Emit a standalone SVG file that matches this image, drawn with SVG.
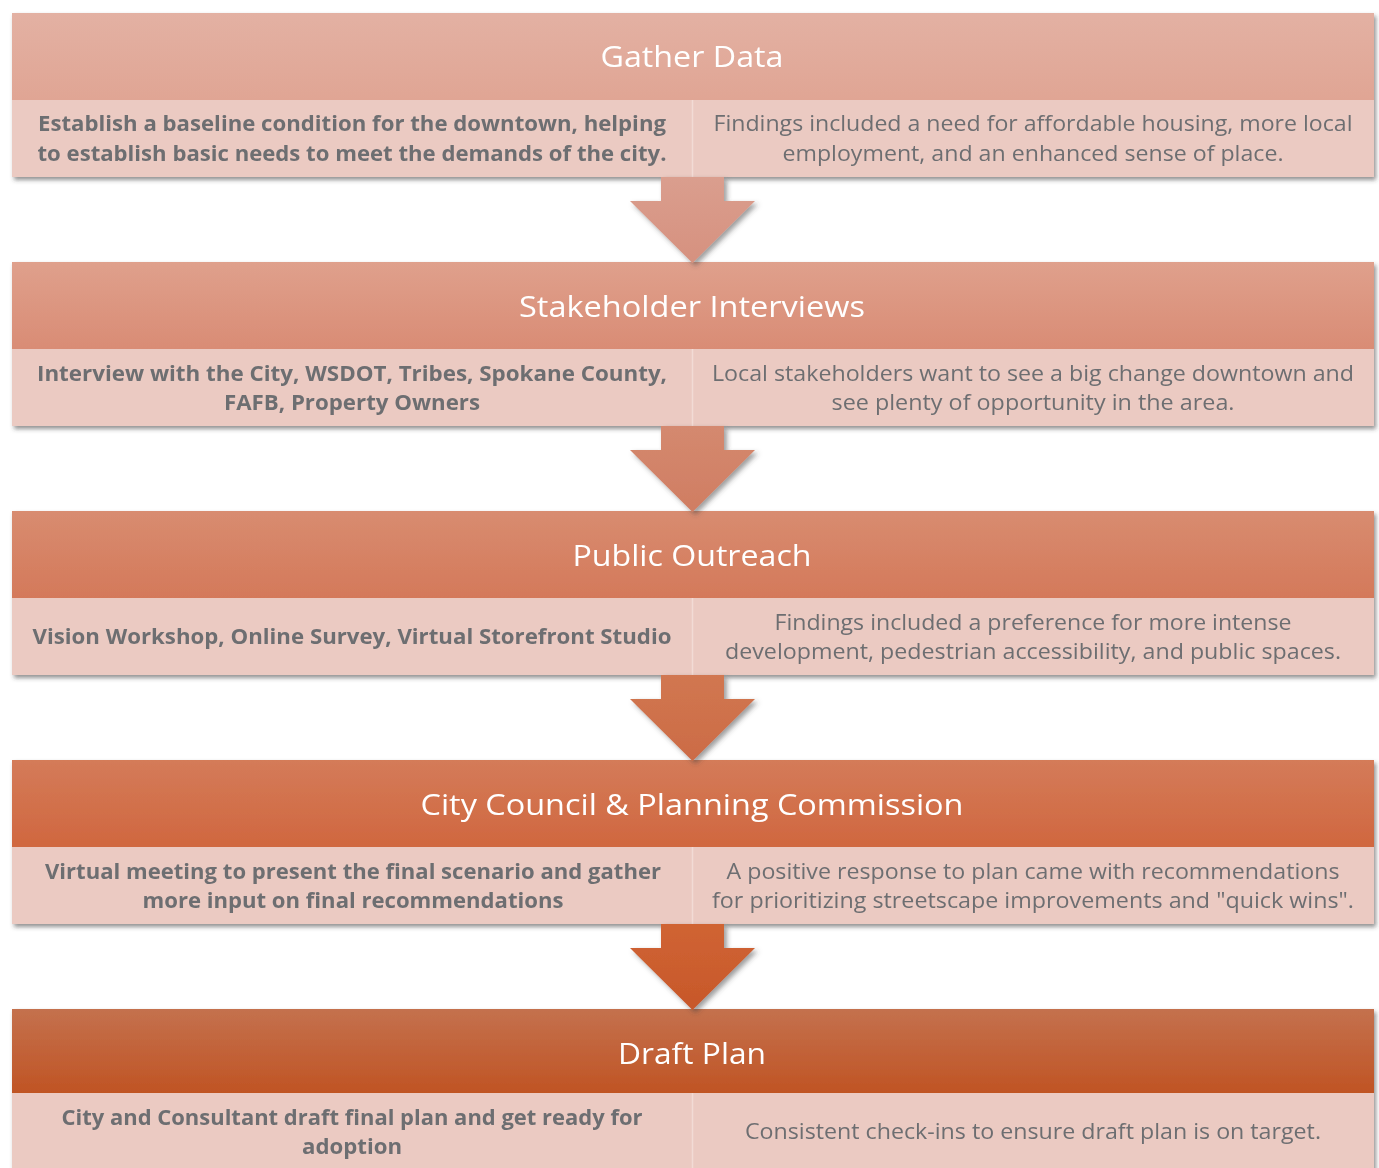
<svg xmlns="http://www.w3.org/2000/svg" width="1379" height="1168" viewBox="0 0 1379 1168">
  <defs>
    <filter id="shadow" x="-5%" y="-20%" width="110%" height="150%">
      <feDropShadow dx="2" dy="3" stdDeviation="2" flood-color="#3a3a3a" flood-opacity="0.55"/>
    </filter>
    <filter id="arrowShadow" x="-20%" y="-20%" width="140%" height="150%">
      <feDropShadow dx="3" dy="3" stdDeviation="2.5" flood-color="#3a3a3a" flood-opacity="0.5"/>
    </filter>
    <linearGradient id="h1" x1="0" y1="0" x2="0" y2="1"><stop offset="0" stop-color="#e3b1a3"/><stop offset="1" stop-color="#e0a594"/></linearGradient>
    <linearGradient id="h2" x1="0" y1="0" x2="0" y2="1"><stop offset="0" stop-color="#dfa08c"/><stop offset="1" stop-color="#d98c75"/></linearGradient>
    <linearGradient id="h3" x1="0" y1="0" x2="0" y2="1"><stop offset="0" stop-color="#d88c70"/><stop offset="1" stop-color="#d4795a"/></linearGradient>
    <linearGradient id="h4" x1="0" y1="0" x2="0" y2="1"><stop offset="0" stop-color="#d47b59"/><stop offset="1" stop-color="#d0673f"/></linearGradient>
    <linearGradient id="h5" x1="0" y1="0" x2="0" y2="1"><stop offset="0" stop-color="#c4714e"/><stop offset="1" stop-color="#c05424"/></linearGradient>
    <linearGradient id="a1" x1="0" y1="0" x2="0" y2="1"><stop offset="0" stop-color="#da9e8e"/><stop offset="1" stop-color="#d6917f"/></linearGradient>
    <linearGradient id="a2" x1="0" y1="0" x2="0" y2="1"><stop offset="0" stop-color="#d4896f"/><stop offset="1" stop-color="#d07d62"/></linearGradient>
    <linearGradient id="a3" x1="0" y1="0" x2="0" y2="1"><stop offset="0" stop-color="#d17751"/><stop offset="1" stop-color="#cc6b45"/></linearGradient>
    <linearGradient id="a4" x1="0" y1="0" x2="0" y2="1"><stop offset="0" stop-color="#d06433"/><stop offset="1" stop-color="#c7572a"/></linearGradient>
  </defs>
  <style>
    .body { fill: #ebcac2; }
    .divider { stroke: #f2dbd5; stroke-width: 1.5; }
    .title { font-family: "Open Sans", "Liberation Sans", sans-serif; font-size: 30px; fill: #ffffff; text-anchor: middle; }
    .lt { font-family: "Open Sans", "Liberation Sans", sans-serif; font-size: 21px; font-weight: bold; fill: #6d6e71; text-anchor: middle; }
    .rt { font-family: "Open Sans", "Liberation Sans", sans-serif; font-size: 21px; fill: #6d6e71; text-anchor: middle; }
  </style>

  <rect width="1379" height="1168" fill="#ffffff"/>

  <!-- Step 1 -->
  <g id="gather-data" filter="url(#shadow)">
    <rect x="12" y="13" width="1362" height="87" fill="url(#h1)"/>
    <rect class="body" x="12" y="100" width="1362" height="77"/>
    <line class="divider" x1="692.5" y1="100" x2="692.5" y2="177"/>
    <text class="title" x="692" y="67" textLength="183" lengthAdjust="spacingAndGlyphs">Gather Data</text>
    <text class="lt" x="352" y="131" textLength="628" lengthAdjust="spacingAndGlyphs">Establish a baseline condition for the downtown, helping</text>
    <text class="lt" x="352" y="161" textLength="629" lengthAdjust="spacingAndGlyphs">to establish basic needs to meet the demands of the city.</text>
    <text class="rt" x="1033" y="131" textLength="639" lengthAdjust="spacingAndGlyphs">Findings included a need for affordable housing, more local</text>
    <text class="rt" x="1033" y="161" textLength="501" lengthAdjust="spacingAndGlyphs">employment, and an enhanced sense of place.</text>
  </g>

  <!-- Step 2 -->
  <g id="stakeholder-interviews" filter="url(#shadow)">
    <rect x="12" y="262" width="1362" height="87" fill="url(#h2)"/>
    <rect class="body" x="12" y="349" width="1362" height="77"/>
    <line class="divider" x1="692.5" y1="349" x2="692.5" y2="426"/>
    <text class="title" x="692" y="317" textLength="346" lengthAdjust="spacingAndGlyphs">Stakeholder Interviews</text>
    <text class="lt" x="352" y="381" textLength="630" lengthAdjust="spacingAndGlyphs">Interview with the City, WSDOT, Tribes, Spokane County,</text>
    <text class="lt" x="352" y="410" textLength="256" lengthAdjust="spacingAndGlyphs">FAFB, Property Owners</text>
    <text class="rt" x="1033" y="381" textLength="642" lengthAdjust="spacingAndGlyphs">Local stakeholders want to see a big change downtown and</text>
    <text class="rt" x="1033" y="410" textLength="403" lengthAdjust="spacingAndGlyphs">see plenty of opportunity in the area.</text>
  </g>

  <!-- Step 3 -->
  <g id="public-outreach" filter="url(#shadow)">
    <rect x="12" y="511" width="1362" height="87" fill="url(#h3)"/>
    <rect class="body" x="12" y="598" width="1362" height="77"/>
    <line class="divider" x1="692.5" y1="598" x2="692.5" y2="675"/>
    <text class="title" x="692" y="566" textLength="239" lengthAdjust="spacingAndGlyphs">Public Outreach</text>
    <text class="lt" x="352" y="644" textLength="639" lengthAdjust="spacingAndGlyphs">Vision Workshop, Online Survey, Virtual Storefront Studio</text>
    <text class="rt" x="1033" y="630" textLength="517" lengthAdjust="spacingAndGlyphs">Findings included a preference for more intense</text>
    <text class="rt" x="1033" y="659" textLength="616" lengthAdjust="spacingAndGlyphs">development, pedestrian accessibility, and public spaces.</text>
  </g>

  <!-- Step 4 -->
  <g id="city-council-planning-commission" filter="url(#shadow)">
    <rect x="12" y="760" width="1362" height="87" fill="url(#h4)"/>
    <rect class="body" x="12" y="847" width="1362" height="77"/>
    <line class="divider" x1="692.5" y1="847" x2="692.5" y2="924"/>
    <text class="title" x="692" y="815" textLength="543" lengthAdjust="spacingAndGlyphs">City Council &amp; Planning Commission</text>
    <text class="lt" x="353" y="879" textLength="616" lengthAdjust="spacingAndGlyphs">Virtual meeting to present the final scenario and gather</text>
    <text class="lt" x="353" y="908" textLength="421" lengthAdjust="spacingAndGlyphs">more input on final recommendations</text>
    <text class="rt" x="1033" y="879" textLength="613" lengthAdjust="spacingAndGlyphs">A positive response to plan came with recommendations</text>
    <text class="rt" x="1033" y="908" textLength="642" lengthAdjust="spacingAndGlyphs">for prioritizing streetscape improvements and "quick wins".</text>
  </g>

  <!-- Step 5 -->
  <g id="draft-plan" filter="url(#shadow)">
    <rect x="12" y="1009" width="1362" height="84" fill="url(#h5)"/>
    <rect class="body" x="12" y="1093" width="1362" height="80"/>
    <line class="divider" x1="692.5" y1="1093" x2="692.5" y2="1168"/>
    <text class="title" x="692" y="1064" textLength="148" lengthAdjust="spacingAndGlyphs">Draft Plan</text>
    <text class="lt" x="352" y="1125" textLength="581" lengthAdjust="spacingAndGlyphs">City and Consultant draft final plan and get ready for</text>
    <text class="lt" x="352" y="1154" textLength="100" lengthAdjust="spacingAndGlyphs">adoption</text>
    <text class="rt" x="1033" y="1139" textLength="576" lengthAdjust="spacingAndGlyphs">Consistent check-ins to ensure draft plan is on target.</text>
  </g>

  <!-- Block arrows between steps -->
  <g id="connectors" filter="url(#arrowShadow)">
    <path d="M661 177 H724 V201 H755 L692.5 263 L630 201 H661 Z" fill="url(#a1)"/>
    <path d="M661 426 H724 V450 H755 L692.5 512 L630 450 H661 Z" fill="url(#a2)"/>
    <path d="M661 675 H724 V699 H755 L692.5 761 L630 699 H661 Z" fill="url(#a3)"/>
    <path d="M661 924 H724 V948 H755 L692.5 1010 L630 948 H661 Z" fill="url(#a4)"/>
  </g>
</svg>
